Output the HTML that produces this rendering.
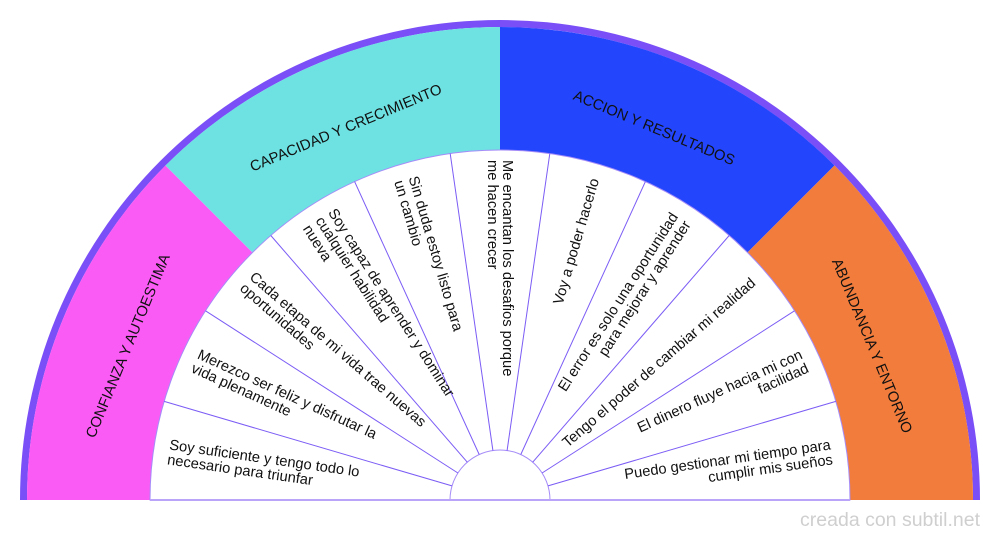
<!DOCTYPE html>
<html><head><meta charset="utf-8"><style>
html,body{margin:0;padding:0;background:#fff;}
svg{display:block;}
text{font-family:"Liberation Sans",sans-serif;fill:#111;}
.t{font-size:14.7px;}
.c{font-size:14.8px;text-anchor:middle;}
</style></head><body>
<svg width="1000" height="540" viewBox="0 0 1000 540" xmlns="http://www.w3.org/2000/svg">
<path d="M20,500 A480,480 0 0 1 980,500 L973,500 A473,473 0 0 0 27,500 Z" fill="#7b4ff7"/>
<path d="M27,500 A473,473 0 0 1 165.5,165.5 L252.5,252.5 A350,350 0 0 0 150,500 Z" fill="#fb5bf5"/>
<path d="M165.5,165.5 A473,473 0 0 1 500,27 L500,150 A350,350 0 0 0 252.5,252.5 Z" fill="#6ee2e3"/>
<path d="M500,27 A473,473 0 0 1 834.5,165.5 L747.5,252.5 A350,350 0 0 0 500,150 Z" fill="#2346fd"/>
<path d="M834.5,165.5 A473,473 0 0 1 973,500 L850,500 A350,350 0 0 0 747.5,252.5 Z" fill="#f27c3c"/>
<path d="M150,500 A350,350 0 0 1 850,500 L550,500 A50,50 0 0 0 450,500 Z" fill="#fff" stroke="#a58cf8" stroke-width="1"/>
<g stroke="#7b5cf5" stroke-width="1">
<line x1="548" y1="485.9" x2="835.8" y2="401.4"/>
<line x1="542.1" y1="473" x2="794.5" y2="310.8"/>
<line x1="532.7" y1="462.2" x2="729.2" y2="235.5"/>
<line x1="520.8" y1="454.5" x2="645.4" y2="181.6"/>
<line x1="507.1" y1="450.5" x2="549.8" y2="153.6"/>
<line x1="492.9" y1="450.5" x2="450.2" y2="153.6"/>
<line x1="479.2" y1="454.5" x2="354.6" y2="181.6"/>
<line x1="467.3" y1="462.2" x2="270.8" y2="235.5"/>
<line x1="457.9" y1="473" x2="205.5" y2="310.8"/>
<line x1="452" y1="485.9" x2="164.2" y2="401.4"/>
</g>
<line x1="150" y1="500" x2="850" y2="500" stroke="#b9a4fa" stroke-width="2"/>

<g class="t">
<g transform="translate(500,500) rotate(8.18)"><text x="-335" y="-3">Soy suficiente y tengo todo lo</text><text x="-335" y="12">necesario para triunfar</text></g>
<g transform="translate(500,500) rotate(24.55)"><text x="-335" y="-3">Merezco ser feliz y disfrutar la</text><text x="-335" y="12">vida plenamente</text></g>
<g transform="translate(500,500) rotate(40.91)"><text x="-335" y="-3">Cada etapa de mi vida trae nuevas</text><text x="-335" y="12">oportunidades</text></g>
<g transform="translate(500,500) rotate(57.27)"><text x="-335" y="-10.5">Soy capaz de aprender y dominar</text><text x="-335" y="4.5">cualquier habilidad</text><text x="-335" y="19.5">nueva</text></g>
<g transform="translate(500,500) rotate(73.64)"><text x="-335" y="-3">Sin duda estoy listo para</text><text x="-335" y="12">un cambio</text></g>
<g transform="translate(500,500) rotate(90)"><text x="-340" y="-3">Me encantan los desafios porque</text><text x="-340" y="12">me hacen crecer</text></g>

<g transform="translate(500,500) rotate(-73.64)"><text x="335" y="5" text-anchor="end">Voy a poder hacerlo</text></g>
<g transform="translate(500,500) rotate(-57.27)"><text x="335" y="-3" text-anchor="end">El error es solo una oportunidad</text><text x="335" y="12" text-anchor="end">para mejorar y aprender</text></g>
<g transform="translate(500,500) rotate(-40.91)"><text x="335" y="5" text-anchor="end">Tengo el poder de cambiar mi realidad</text></g>
<g transform="translate(500,500) rotate(-24.55)"><text x="335" y="-3" text-anchor="end">El dinero fluye hacia mi con</text><text x="335" y="12" text-anchor="end">facilidad</text></g>
<g transform="translate(500,500) rotate(-8.18)"><text x="335" y="-3" text-anchor="end">Puedo gestionar mi tiempo para</text><text x="335" y="12" text-anchor="end">cumplir mis sueños</text></g>
</g>

<g class="c">
<text transform="translate(127.7,345.8) rotate(-67.5)" y="5">CONFIANZA Y AUTOESTIMA</text>
<text transform="translate(345.8,127.7) rotate(-22.5)" y="5">CAPACIDAD Y CRECIMIENTO</text>
<text transform="translate(654.2,127.7) rotate(22.5)" y="5">ACCION Y RESULTADOS</text>
<text transform="translate(872.3,345.8) rotate(67.5)" y="5">ABUNDANCIA Y ENTORNO</text>
</g>
<text x="980" y="526" text-anchor="end" style="font-size:19.5px;fill:#cfcfcf">creada con subtil.net</text>
</svg>
</body></html>
